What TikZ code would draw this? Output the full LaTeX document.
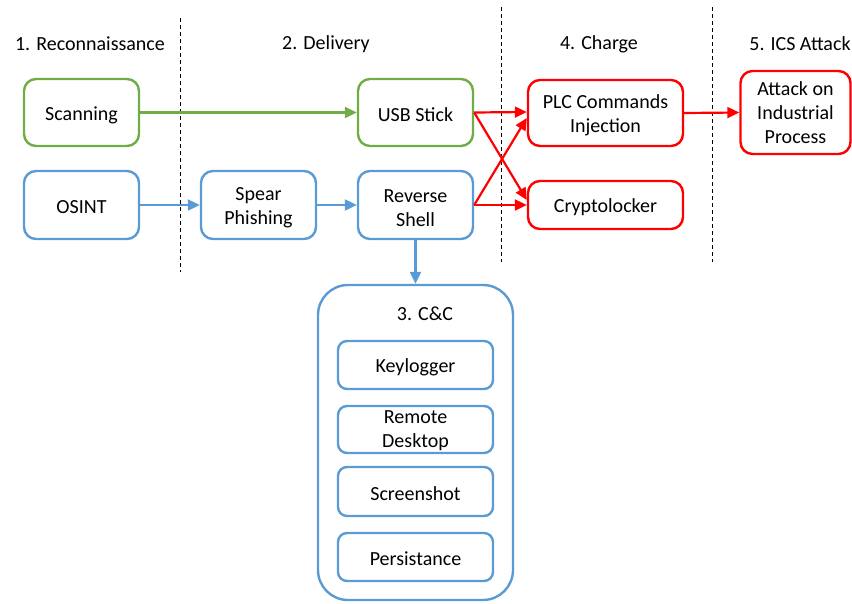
\documentclass[tikz,border=0pt]{standalone}
\usepackage{fontspec}
\setmainfont{Carlito}
\usetikzlibrary{arrows.meta,calc}
\definecolor{cgreen}{HTML}{70AD47}
\definecolor{cblue}{HTML}{5B9BD5}
\definecolor{cred}{HTML}{FF0000}
\begin{document}
\begin{tikzpicture}[x=1pt,y=-1pt,
  every node/.style={font=\fontsize{20}{24}\selectfont},
  box/.style={draw,line width=2.4pt,rounded corners=12pt,inner sep=0pt},
  gbox/.style={box,draw=cgreen},
  bbox/.style={box,draw=cblue},
  rbox/.style={box,draw=cred},
  txt/.style={align=center,inner sep=0pt},
  arr/.style={line width=2.2pt,-{Triangle[length=12pt,width=11pt]}},
  sep/.style={black,line width=0.9pt,dash pattern=on 4pt off 3pt},
  hdr/.style={inner sep=0pt}
]
\useasboundingbox (0,0) rectangle (852,603);
% separators
\coordinate (s1t) at (180,18); \coordinate (s1b) at (180,272);
\coordinate (s2t) at (501,7); \coordinate (s2b) at (501,262);
\coordinate (s3t) at (712,7); \coordinate (s3b) at (712,262);
\draw[sep] (s1t) -- (s1b);
\draw[sep] (s2t) -- (s2b);
\draw[sep] (s3t) -- (s3b);
% headers
\node[hdr] (h1) at (90,44) {1. Reconnaissance};
\node[hdr] (h2) at (326,44) {2. Delivery};
\node[hdr] (h4) at (599,44) {4. Charge};
\node[hdr] (h5) at (800,44) {5. ICS Attack};
% boxes
\node[gbox,minimum width=115pt,minimum height=67pt] (scan) at (81.5,112.5) {};
\node[bbox,minimum width=115pt,minimum height=68pt] (osint) at (81.5,205) {};
\node[bbox,minimum width=115pt,minimum height=68pt] (spear) at (258.5,205) {};
\node[gbox,minimum width=115pt,minimum height=67pt] (usb) at (415.5,112.5) {};
\node[bbox,minimum width=115pt,minimum height=68pt] (rev) at (415.5,205) {};
\node[rbox,minimum width=155pt,minimum height=66pt] (plc) at (605.5,113) {};
\node[rbox,minimum width=155pt,minimum height=48pt] (crypto) at (605.5,205) {};
\node[rbox,minimum width=110pt,minimum height=83pt] (ics) at (795.5,112.5) {};
\node[txt] (scant) at ($(scan)+(0,2.5)$) {Scanning};
\node[txt] (osintt) at ($(osint)+(0,2.5)$) {OSINT};
\node[txt] (speart) at ($(spear)+(0,3)$) {Spear\\Phishing};
\node[txt] (usbt) at ($(usb)+(0,2.5)$) {USB Stick};
\node[txt] (revt) at ($(rev)+(0,3)$) {Reverse\\Shell};
\node[txt] (plct) at ($(plc)+(0,2.5)$) {PLC Commands\\Injection};
\node[txt] (cryptot) at ($(crypto)+(0,2.5)$) {Cryptolocker};
\node[txt] (icst) at ($(ics)+(0,0.5)$) {Attack on\\Industrial\\Process};
% C&C
\node[bbox,rounded corners=30pt,minimum width=195pt,minimum height=315pt] (cc) at (415.5,442.5) {};
\node[hdr] (cct) at (425,314) {3. C\&C};
\node[bbox,rounded corners=9pt,minimum width=155pt,minimum height=48pt] (key) at (415.5,365) {};
\node[bbox,rounded corners=9pt,minimum width=155pt,minimum height=47pt] (rdp) at (415.5,429.5) {};
\node[bbox,rounded corners=9pt,minimum width=155pt,minimum height=49pt] (shot) at (415.5,491.5) {};
\node[bbox,rounded corners=9pt,minimum width=155pt,minimum height=48pt] (pers) at (415.5,557) {};
\node[txt] (keyt) at ($(key)+(0,2)$) {Keylogger};
\node[txt] (rdpt) at ($(rdp)+(0,1.5)$) {Remote\\Desktop};
\node[txt] (shott) at ($(shot)+(0,2)$) {Screenshot};
\node[txt] (perst) at ($(pers)+(0,2)$) {Persistance};
% arrows
\draw[arr,cgreen] (scan.east) -- (usb.west);
\draw[arr,cblue] (osint.east) -- (spear.west);
\draw[arr,cblue] (spear.east) -- (rev.west);
\draw[arr,cblue] (rev.south) -- (cc.north);
\draw[arr,cred] (usb.east) -- ($(plc.west)+(0,-1)$);
\draw[arr,cred] (usb.east) -- ($(crypto.west)+(0,-5)$);
\draw[arr,cred] (rev.east) -- ($(plc.west)+(0,5)$);
\draw[arr,cred] (rev.east) -- (crypto.west);
\draw[arr,cred] (plc.east) -- (ics.west);
\end{tikzpicture}
\end{document}
